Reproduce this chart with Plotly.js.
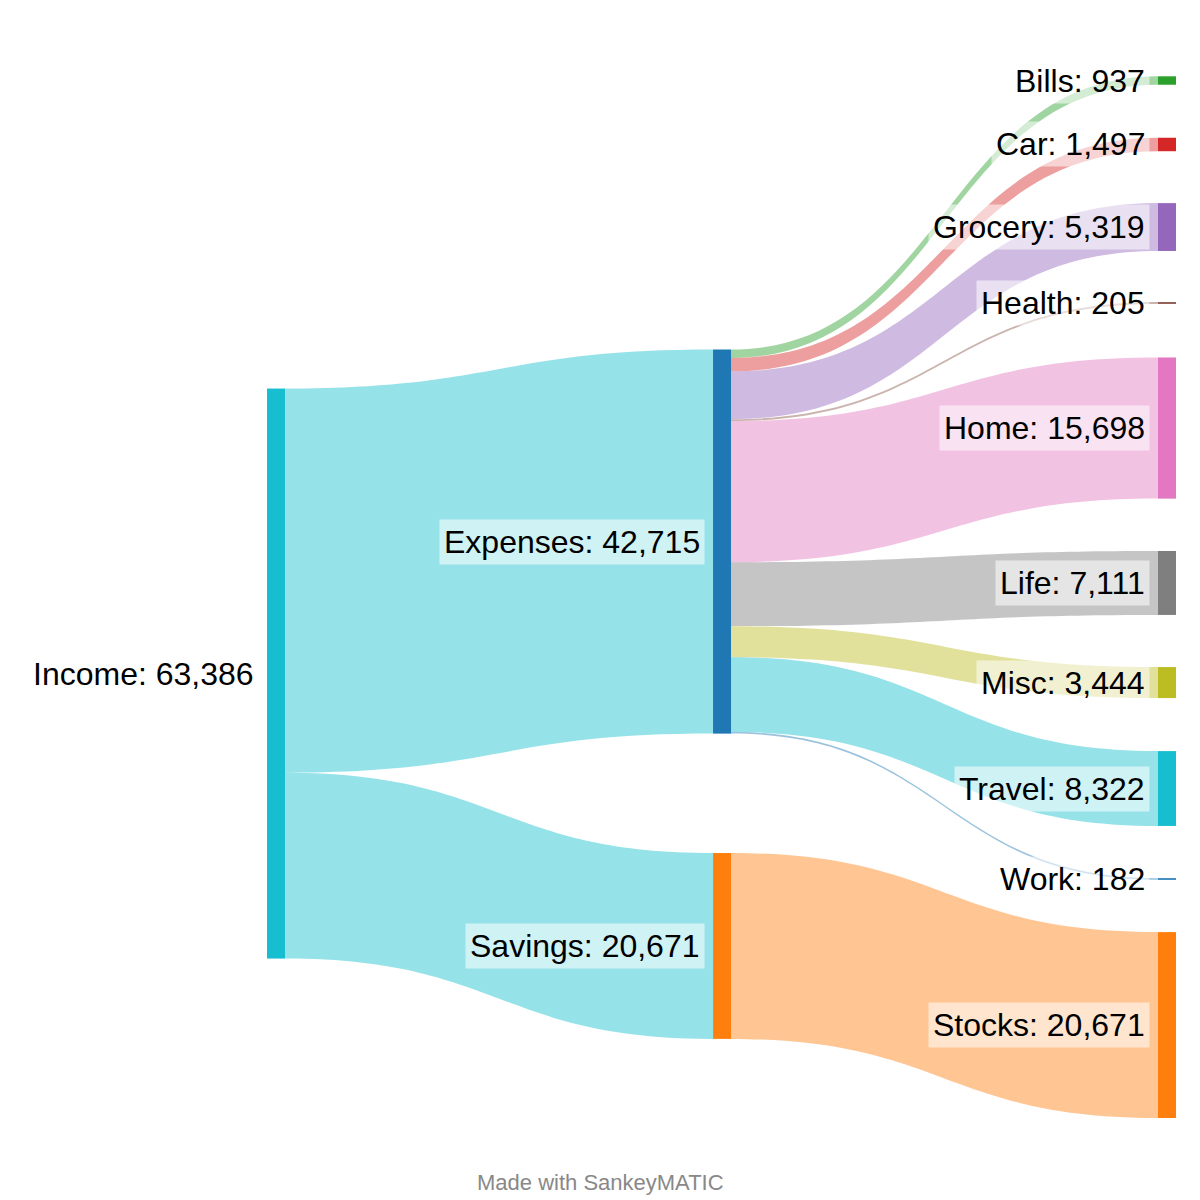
<!DOCTYPE html>
<html>
<head>
<meta charset="utf-8">
<script src="https://cdn.plot.ly/plotly-3.0.1.min.js"></script>
<style>
  body { margin: 0; background: #fff; }
  #chart { width: 1200px; height: 1200px; }
</style>
</head>
<body>
<div id="chart"></div>
<script>
const labels = ['Income', 'Expenses', 'Savings', 'Bills', 'Car', 'Grocery', 'Health', 'Home', 'Life', 'Misc', 'Travel', 'Work', 'Stocks'];
const nodeColors = ['#17becf', '#1f77b4', '#ff7f0e', '#2ca02c', '#d62728', '#9467bd', '#8c564b', '#e377c2', '#7f7f7f', '#bcbd22', '#17becf', '#1f77b4', '#ff7f0e'];

const linkSource = [0, 0, 1, 1, 1, 1, 1, 1, 1, 1, 1, 2];
const linkTarget = [1, 2, 3, 4, 5, 6, 7, 8, 9, 10, 11, 12];
const linkValue = [42715, 20671, 937, 1497, 5319, 205, 15698, 7111, 3444, 8322, 182, 20671];

// node centres (fraction of width / height, from the top)
const nodeX = [0.23, 0.6017, 0.6017, 0.9725, 0.9725, 0.9725, 0.9725, 0.9725, 0.9725, 0.9725, 0.9725, 0.9725, 0.9725];
const nodeY = [0.5613, 0.4513, 0.7883, 0.0671, 0.1204, 0.1892, 0.2525, 0.3567, 0.4858, 0.5688, 0.6571, 0.7325, 0.8542];

function hexA(hex, a) {
  const n = parseInt(hex.slice(1), 16);
  return `rgba(${n >> 16},${(n >> 8) & 255},${n & 255},${a})`;
}

// first-level flows take the source colour, the rest the target colour
const linkColors = linkSource.map((s, i) => hexA(s === 0 ? nodeColors[s] : nodeColors[linkTarget[i]], 0.45));

const totals = labels.map((_, i) => {
  const inSum = linkValue.filter((v, j) => linkTarget[j] === i).reduce((a, b) => a + b, 0);
  const outSum = linkValue.filter((v, j) => linkSource[j] === i).reduce((a, b) => a + b, 0);
  return Math.max(inSum, outSum);
});

const thickness = 18;
const annotations = labels.map((name, i) => ({
  text: name + ': ' + totals[i].toLocaleString('en-US'),
  xref: 'paper', yref: 'paper',
  x: (nodeX[i] * 1200 - thickness / 2 - 8) / 1200,
  y: 1 - nodeY[i],
  xanchor: 'right', yanchor: 'middle',
  showarrow: false,
  bgcolor: i === 0 ? 'rgba(0,0,0,0)' : 'rgba(255,255,255,0.55)',
  borderpad: 4,
  font: {family: 'Liberation Sans, Arial, sans-serif', size: 32, color: '#000'}
}));

annotations.push({
  text: 'Made with SankeyMATIC',
  xref: 'paper', yref: 'paper',
  x: 0.5, y: 1 - 1182 / 1200,
  xanchor: 'center', yanchor: 'middle',
  showarrow: false,
  font: {family: 'Liberation Sans, Arial, sans-serif', size: 22, color: '#888'}
});

const data = [{
  type: 'sankey',
  arrangement: 'fixed',
  node: {
    label: labels,
    x: nodeX,
    y: nodeY,
    color: nodeColors,
    thickness: thickness,
    pad: 70,
    line: {width: 0}
  },
  link: {
    source: linkSource,
    target: linkTarget,
    value: linkValue,
    color: linkColors,
    line: {width: 0}
  },
  textfont: {size: 1, color: 'rgba(0,0,0,0)', shadow: 'none'},
  hoverinfo: 'none'
}];

const layout = {
  width: 1200,
  height: 1200,
  margin: {l: 0, r: 0, t: 0, b: 0},
  paper_bgcolor: '#fff',
  annotations: annotations
};

Plotly.newPlot('chart', data, layout, {displayModeBar: false});
</script>
</body>
</html>
